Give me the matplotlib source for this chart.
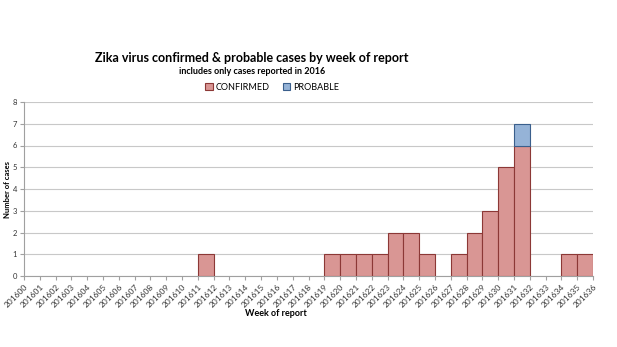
import matplotlib.pyplot as plt
import numpy as np

plt.rcParams['font.family'] = ['Lato', 'DejaVu Sans']

# weekly counts, week index 0..36 (201600..201636)
weeks = [f"2016{w:02d}" for w in range(0, 37)]
week_idx = [11, 19, 20, 21, 22, 23, 24, 25, 27, 28, 29, 30, 31, 34, 35]
confirmed = [1, 1, 1, 1, 1, 2, 2, 1, 1, 2, 3, 5, 6, 1, 1]
probable = [0, 0, 0, 0, 0, 0, 0, 0, 0, 0, 0, 0, 1, 0, 0]

fig = plt.figure(figsize=(6.17, 3.47), dpi=100)
ax = fig.add_axes([24 / 617, 1 - 276 / 347, (593 - 24) / 617, (276 - 102) / 347])

ax.bar(week_idx, confirmed, width=1, align='edge', color='#D99694',
       edgecolor='#8C3836', linewidth=0.8, label='CONFIRMED', zorder=3)
# only weeks that actually have probable cases
pw = [w for w, p in zip(week_idx, probable) if p > 0]
pb = [c for c, p in zip(confirmed, probable) if p > 0]
pv = [p for p in probable if p > 0]
ax.bar(pw, pv, width=1, align='edge', bottom=pb,
       color='#95B3D7', edgecolor='#3A5F8C', linewidth=0.8, label='PROBABLE', zorder=3)

ax.set_xlim(0, 36)
ax.set_ylim(0, 8)
ax.set_yticks(range(0, 9))
ax.set_xticks(range(0, 37))
ax.set_xticklabels(weeks, rotation=45, ha='right', rotation_mode='anchor')
ax.tick_params(axis='x', labelsize=6, length=3, color='#A0A0A0', pad=2, labelcolor='#333333')
ax.tick_params(axis='y', labelsize=5.5, length=3, color='#A0A0A0', pad=2, labelcolor='#333333')
ax.grid(axis='y', color='#C8C8C8', linewidth=0.8, zorder=0)
for s in ['top', 'right']:
    ax.spines[s].set_visible(False)
for s in ['left', 'bottom']:
    ax.spines[s].set_color('#A0A0A0')
    ax.spines[s].set_linewidth(0.8)

fig.text(252 / 617, 1 - 58 / 347, 'Zika virus confirmed & probable cases by week of report',
         ha='center', va='center', fontsize=9, fontweight='bold')
fig.text(252 / 617, 1 - 72 / 347, 'includes only cases reported in 2016',
         ha='center', va='center', fontsize=6.5, fontweight='bold')
fig.text(276 / 617, 1 - 313 / 347, 'Week of report', ha='center', va='center',
         fontsize=6.5, fontweight='bold')
fig.text(8 / 617, 1 - 190 / 347, 'Number of cases', ha='center', va='center',
         fontsize=5.5, fontweight='bold', rotation=90)

fig.legend(loc='center', bbox_to_anchor=(272 / 617, 1 - 87 / 347), ncol=2,
           frameon=False, fontsize=6.5, handlelength=0.8, handleheight=0.8,
           columnspacing=1.5, handletextpad=0.3)

fig.savefig('out.png', dpi=100)
